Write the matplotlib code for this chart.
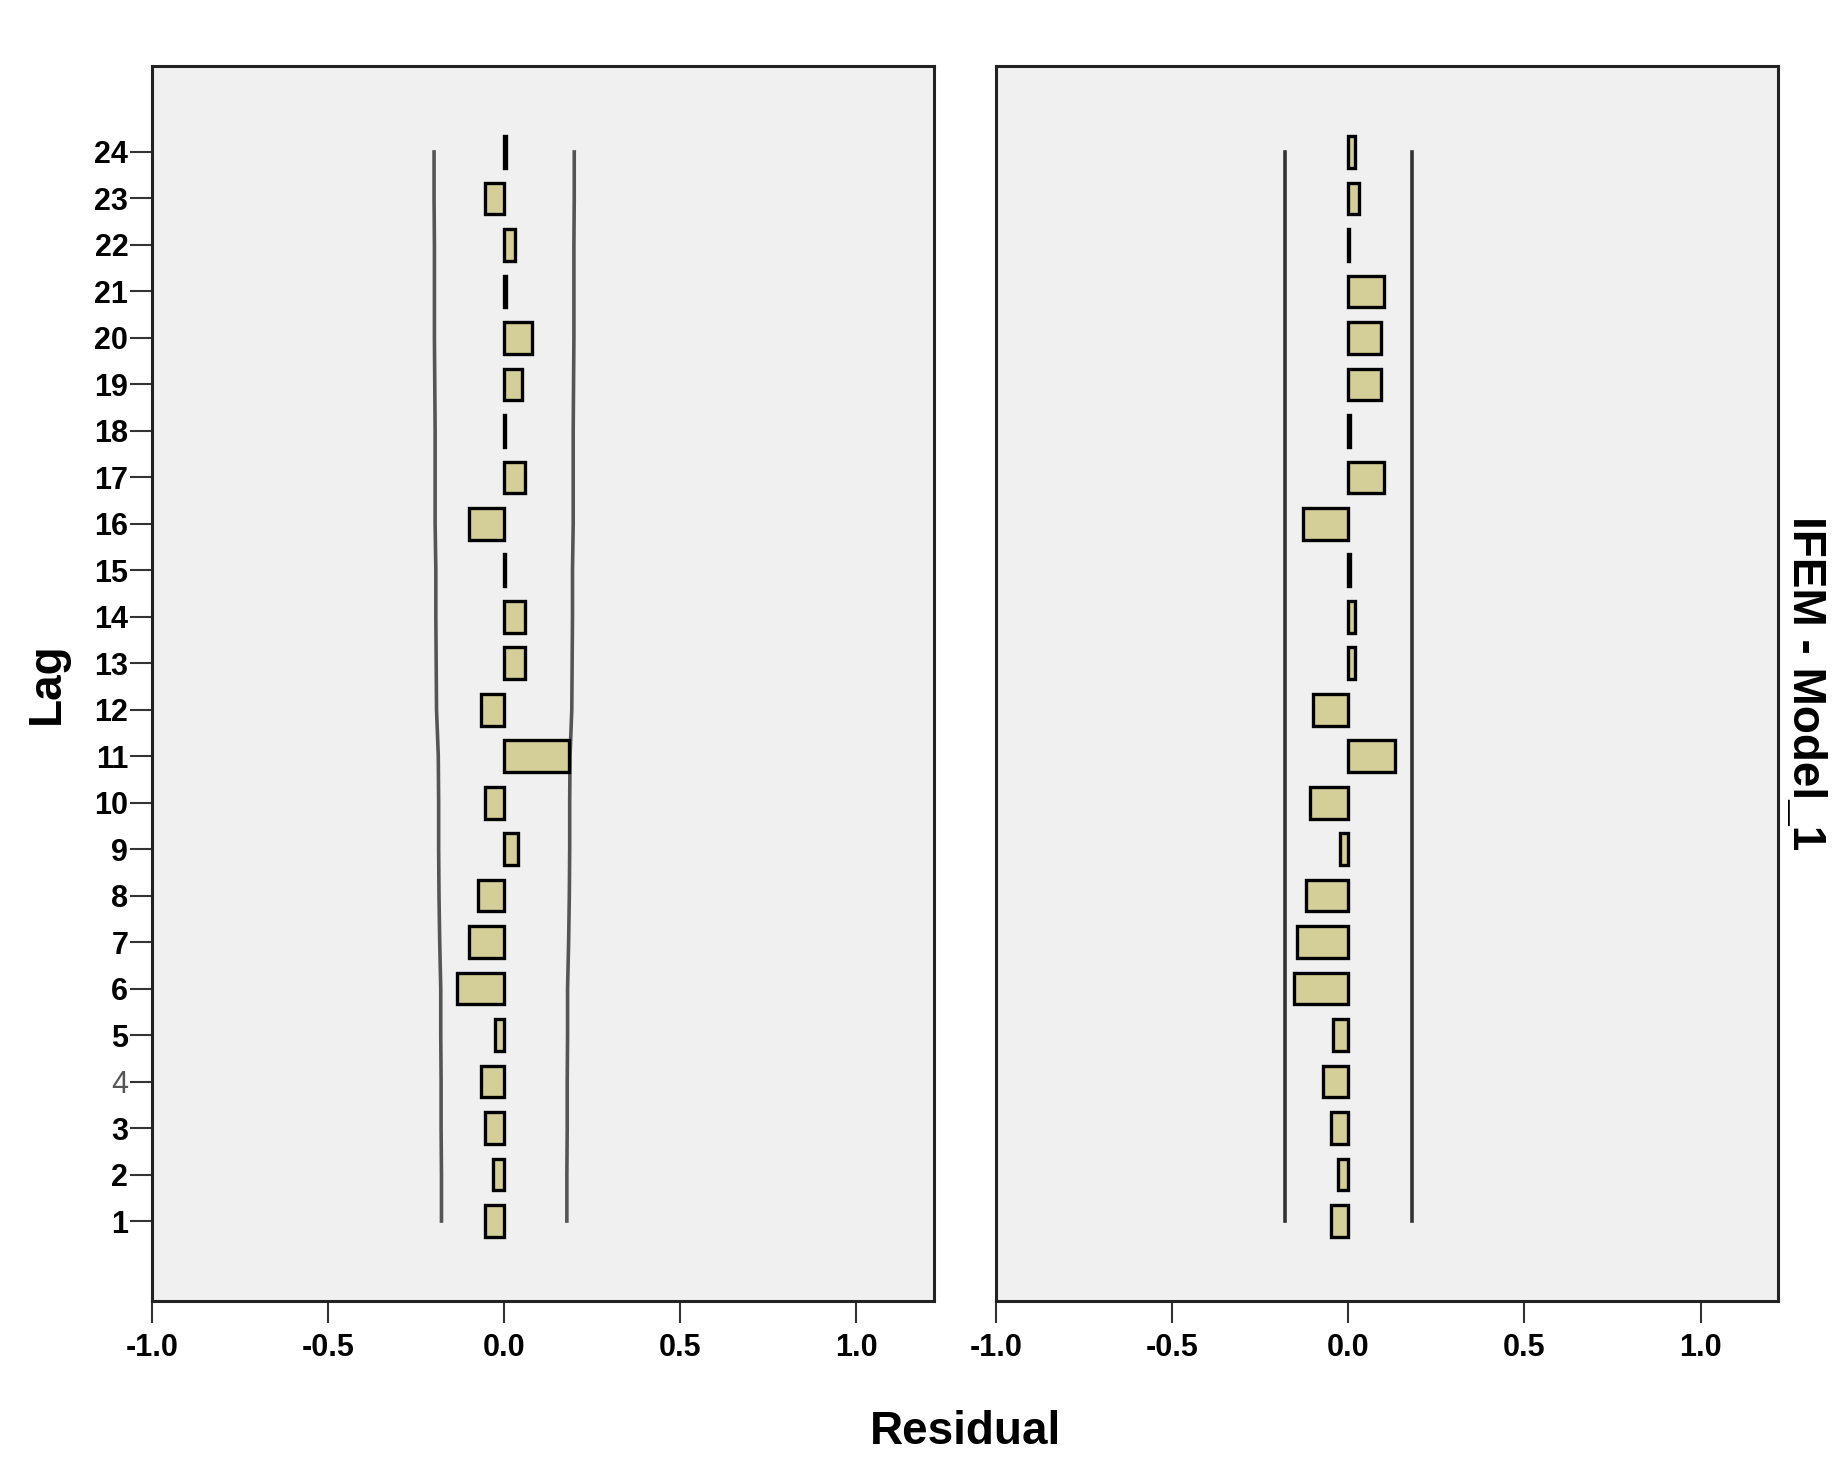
import numpy as np
import matplotlib.pyplot as plt

plt.rcParams['font.family'] = ['Liberation Sans', 'DejaVu Sans']

lags = list(range(1, 25))

# residual ACF, left panel (lags 1..24)
left_acf = [-0.055, -0.033, -0.055, -0.065, -0.025, -0.135, -0.10, -0.075,
            0.04, -0.055, 0.185, -0.065, 0.06, 0.06, 0.002, -0.10,
            0.06, 0.002, 0.05, 0.08, 0.005, 0.03, -0.055, 0.005]
# confidence limit (upper), left panel
left_lim = [0.178, 0.178, 0.179, 0.179, 0.180, 0.180, 0.183, 0.185,
            0.186, 0.186, 0.187, 0.192, 0.193, 0.194, 0.194, 0.196,
            0.196, 0.196, 0.197, 0.198, 0.198, 0.198, 0.199, 0.199]

# residual PACF, right panel
right_acf = [-0.05, -0.03, -0.05, -0.072, -0.043, -0.155, -0.145, -0.12,
             -0.025, -0.11, 0.133, -0.10, 0.02, 0.02, 0.006, -0.13,
             0.10, 0.006, 0.093, 0.093, 0.10, 0.003, 0.03, 0.02]
right_lim = [0.18] * 24

xticks = [-1.0, -0.5, 0.0, 0.5, 1.0]

bar_color = '#d4cf98'
panel_bg = '#f0f0f0'

fig = plt.figure(figsize=(18.46, 14.59), dpi=100)
ax1 = fig.add_axes([0.0823, 0.1083, 0.4236, 0.8465])
ax2 = fig.add_axes([0.5396, 0.1083, 0.4236, 0.8465])


def draw_panel(ax, vals, lim, show_y, lim_color):
    ax.set_facecolor(panel_bg)
    ax.barh(lags, vals, height=0.68, color=bar_color, edgecolor='black',
            linewidth=2.4, zorder=3)
    ax.plot(lim, lags, color=lim_color, lw=2.6, zorder=2)
    ax.plot([-v for v in lim], lags, color=lim_color, lw=2.6, zorder=2)
    ax.set_xlim(-1.0, 1.22)
    ax.set_ylim(-0.72, 25.85)
    ax.set_xticks(xticks)
    ax.set_xticklabels([f"{t:.1f}" for t in xticks], fontsize=22,
                       fontweight='bold')
    ax.tick_params(axis='x', length=16, width=1.5, pad=7, color='#333333')
    for s in ax.spines.values():
        s.set_linewidth(2.2)
        s.set_color('#222222')
    if show_y:
        ax.set_yticks(lags)
        ax.set_yticklabels([str(l) for l in lags], fontsize=22,
                           fontweight='bold')
        ax.tick_params(axis='y', length=16, width=1.5, pad=1,
                       color='#333333')
        for lab in ax.get_yticklabels():
            if lab.get_text() == '4':
                lab.set_fontweight('normal')
                lab.set_color('#555555')
    else:
        ax.set_yticks([])


draw_panel(ax1, left_acf, left_lim, True, '#555555')
draw_panel(ax2, right_acf, right_lim, False, '#333333')

fig.text(47 / 1846, 1 - 683 / 1459, 'Lag', rotation=90, fontsize=33,
         fontweight='bold', ha='center', va='center')
fig.text(965 / 1846, 1 - 1432 / 1459, 'Residual', fontsize=33,
         fontweight='bold', ha='center', va='center')
fig.text(1805 / 1846, 1 - 683 / 1459, 'IFEM - Model_1', rotation=-90,
         fontsize=33, fontweight='bold', ha='center', va='center')

fig.savefig('out.png', dpi=100, facecolor='white')
